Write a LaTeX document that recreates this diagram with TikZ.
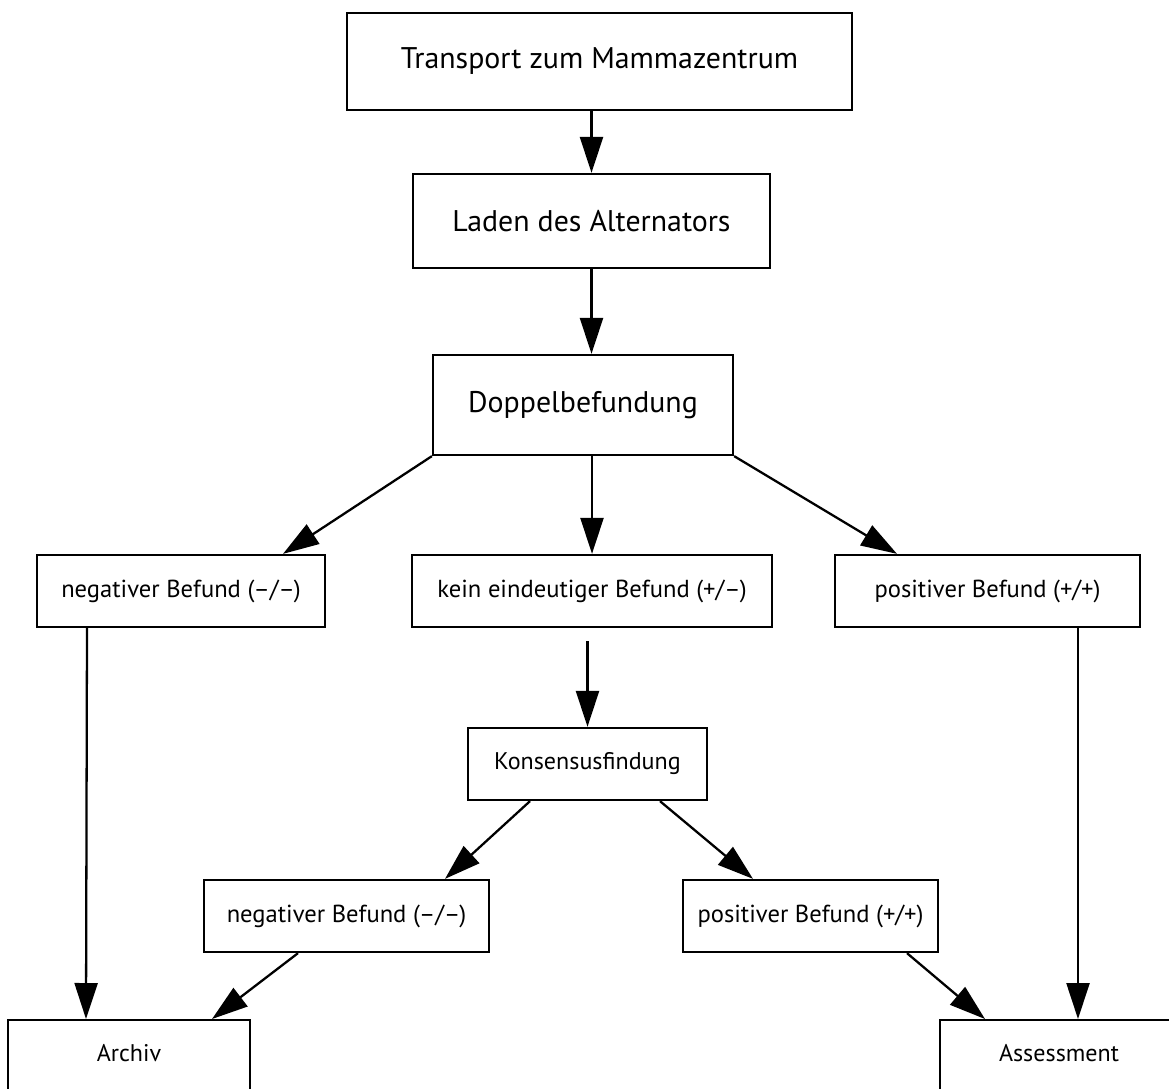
\documentclass[tikz,border=0pt]{standalone}
\usepackage{fontspec}
\setmainfont{PT Sans}
\usetikzlibrary{positioning,arrows.meta,calc}

\begin{document}
\begin{tikzpicture}[
    box/.style={draw, line width=1.3pt, inner sep=0pt, align=center},
    bigbox/.style={box, font=\fontsize{17}{20}\selectfont},
    midbox/.style={box, minimum height=1.44cm, font=\fontsize{14}{17}\selectfont},
    endbox/.style={box, anchor=north, text height=0.82cm, text depth=1.8cm,
                   font=\fontsize{13.7}{16}\selectfont},
    flow/.style={-{Triangle[length=0.72cm, width=0.46cm]}, line width=1.3pt}
]
    \useasboundingbox (0,0) rectangle (23.38,-21.76);

    % Main chain down the middle
    \node[bigbox, minimum width=10.1cm, minimum height=1.94cm] (trans) at (11.99,-1.23) {Transport zum Mammazentrum};
    \node[bigbox, minimum width=7.14cm, minimum height=1.88cm] (laden) at (11.83,-4.42) {Laden des Alternators};
    \node[bigbox, minimum width=6.0cm, minimum height=2.0cm] (doppel) at (11.66,-8.10) {Doppelbefundung};

    % First reading
    \node[midbox, minimum width=5.76cm] (neg) at (3.62,-11.82) {negativer Befund (--/--)};
    \node[midbox, minimum width=7.2cm] (kein) at (11.84,-11.82) {kein eindeutiger Befund (+/--)};
    \node[midbox, minimum width=6.1cm] (pos) at (19.75,-11.82) {positiver Befund (+/+)};

    \node[midbox, minimum width=4.78cm, font=\fontsize{13.7}{16}\selectfont] (konsens) at (11.75,-15.28) {Konsensusfindung};

    % After consensus
    \node[midbox, minimum width=5.7cm] (neg2) at (6.93,-18.32) {negativer Befund (--/--)};
    \node[midbox, minimum width=5.1cm] (pos2) at (16.21,-18.32) {positiver Befund (+/+)};

    % Final boxes, cut off by the page edge
    \node[endbox, minimum width=4.84cm] (archiv) at (2.58,-20.38) {Archiv};
    \node[endbox, minimum width=4.76cm] (assess) at (21.18,-20.38) {Assessment};

    \draw[flow] (trans.south -| laden.north) -- (laden.north);
    \draw[flow] (laden.south) -- (laden.south |- doppel.north);

    \draw[flow] (doppel.south west) -- ($(neg.north)+(2.04,0)$);
    \draw[flow] (doppel.south -| kein.north) -- (kein.north);
    \draw[flow] (doppel.south east) -- ($(pos.north)+(-1.81,0)$);

    \draw[flow, shorten <=0.26cm] (kein.south -| konsens.north) -- (konsens.north);
    \draw[flow] ($(konsens.south)+(-1.15,0)$) -- ($(neg2.north)+(1.97,0)$);
    \draw[flow] ($(konsens.south)+(1.45,0)$) -- ($(pos2.north)+(-1.15,0)$);

    \draw[flow] ($(neg.south)+(-1.88,0)$) -- ($(archiv.north)+(-0.86,0)$);
    \draw[flow] ($(neg2.south)+(-0.97,0)$) -- ($(archiv.north)+(1.66,0)$);
    \draw[flow] ($(pos2.south)+(1.93,0)$) -- ($(assess.north)+(-1.48,0)$);
    \draw[flow] ($(pos.south)+(1.81,0)$) -- ($(assess.north)+(0.38,0)$);
\end{tikzpicture}
\end{document}
